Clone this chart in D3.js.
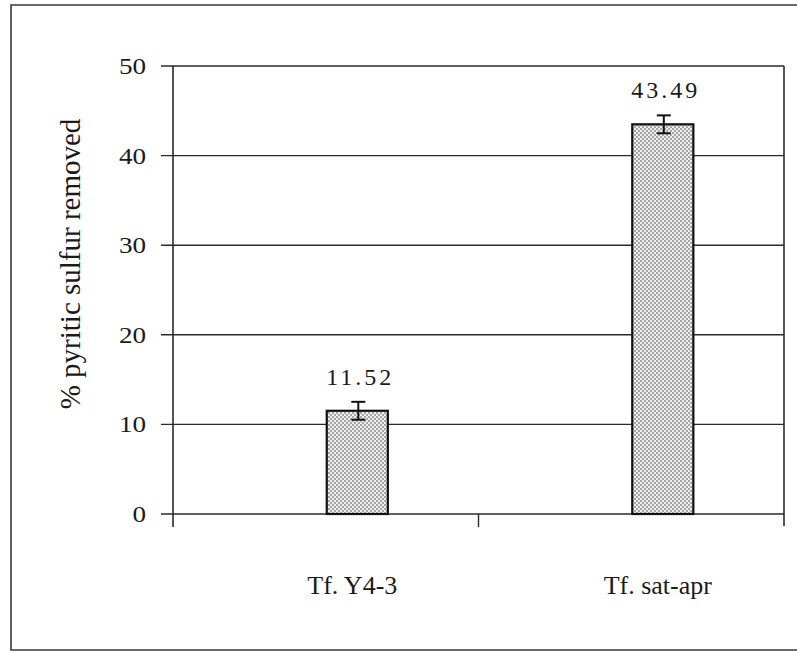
<!DOCTYPE html>
<html>
<head>
<meta charset="utf-8">
<script src="https://cdn.jsdelivr.net/npm/d3@7"></script>
<style>
  html, body { margin: 0; padding: 0; background: #fff; }
  svg { display: block; }
  text { font-family: "Liberation Serif", "Times New Roman", serif; fill: #1a1a1a; }
</style>
</head>
<body>
<svg id="chart" width="797" height="653"></svg>
<script>
// Strains tested and pyritic sulfur removal (%)
const categories = ["Tf. Y4-3", "Tf. sat-apr"];
const removal = [11.52, 43.49];
const removalErr = [1.0, 1.0];
const yTicks = [0, 10, 20, 30, 40, 50];
const yTitle = "% pyritic sulfur removed";
// Excel-style cluster: an empty slot sits before the plotted series
const seriesSlots = ["blank", "removal"];

const svg = d3.select("#chart");
const ink = "#2a2a2a";

// Dotted (stippled) bar fill
const defs = svg.append("defs");
const pat = defs.append("pattern")
  .attr("id", "stipple").attr("patternUnits", "userSpaceOnUse")
  .attr("width", 4).attr("height", 4);
pat.append("rect").attr("width", 4).attr("height", 4).attr("fill", "#efefef");
pat.append("circle").attr("cx", 1).attr("cy", 1).attr("r", 0.75).attr("fill", "#3a3a3a");
pat.append("circle").attr("cx", 3).attr("cy", 3).attr("r", 0.75).attr("fill", "#3a3a3a");

// Outer chart frame (right side runs off the page)
svg.append("path")
  .attr("d", "M 820 5 L 11 5 L 11 650 L 820 650")
  .attr("fill", "none").attr("stroke", "#3a3a3a").attr("stroke-width", 1.6);

const plot = { left: 173, right: 784, top: 66, bottom: 514 };

const y = d3.scaleLinear().domain([0, 50]).range([plot.bottom, plot.top]);
const x0 = d3.scaleBand().domain(categories).range([plot.left, plot.right]);
const x1 = d3.scaleBand().domain(seriesSlots).range([0, x0.bandwidth()])
  .paddingInner(0).paddingOuter(1.5);

// Horizontal gridlines with outward tick stubs
svg.append("g").selectAll("line").data(yTicks).join("line")
  .attr("x1", plot.left - 12).attr("x2", plot.right)
  .attr("y1", d => y(d)).attr("y2", d => y(d))
  .attr("stroke", ink).attr("stroke-width", 1.4);

// Value axis
svg.append("line")
  .attr("x1", plot.left).attr("x2", plot.left)
  .attr("y1", plot.top).attr("y2", plot.bottom + 13)
  .attr("stroke", ink).attr("stroke-width", 1.6);

// Right edge of plot area
svg.append("line")
  .attr("x1", plot.right).attr("x2", plot.right)
  .attr("y1", plot.top).attr("y2", plot.bottom + 12)
  .attr("stroke", ink).attr("stroke-width", 1.6);

// Category boundary tick marks
const boundaries = categories.slice(1).map(c => x0(c));
svg.append("g").selectAll("line").data(boundaries).join("line")
  .attr("x1", d => d).attr("x2", d => d)
  .attr("y1", plot.bottom).attr("y2", plot.bottom + 13)
  .attr("stroke", ink).attr("stroke-width", 1.4);

// Tick labels (slightly widened glyphs)
svg.append("g").selectAll("text").data(yTicks).join("text")
  .attr("transform", d => `translate(${plot.left - 27}, ${y(d)}) scale(1.18, 1)`)
  .attr("dy", "0.35em").attr("text-anchor", "end")
  .attr("font-size", 23)
  .text(d => d);

// Bars
const barX = i => x0(categories[i]) + x1("removal") + 1;
const barW = x1.bandwidth();
svg.append("g").selectAll("rect").data(removal).join("rect")
  .attr("x", (d, i) => barX(i)).attr("width", barW)
  .attr("y", d => y(d)).attr("height", d => y(0) - y(d))
  .attr("fill", "url(#stipple)")
  .attr("stroke", "#111").attr("stroke-width", 2.2);

// Error bars
const eb = svg.append("g").attr("stroke", "#111").attr("stroke-width", 2);
removal.forEach((v, i) => {
  const cx = barX(i) + barW / 2 + 1;
  const top = y(v + removalErr[i]), bot = y(v - removalErr[i]);
  eb.append("line").attr("x1", cx).attr("x2", cx).attr("y1", top).attr("y2", bot);
  eb.append("line").attr("x1", cx - 7).attr("x2", cx + 7).attr("y1", top).attr("y2", top);
  eb.append("line").attr("x1", cx - 7).attr("x2", cx + 7).attr("y1", bot).attr("y2", bot);
});

// Value labels
svg.append("g").selectAll("text").data(removal).join("text")
  .attr("x", (d, i) => barX(i) + barW / 2 + 3)
  .attr("y", (d, i) => y(d + removalErr[i]) - 17)
  .attr("text-anchor", "middle")
  .attr("font-size", 24).attr("letter-spacing", 3)
  .text(d => d.toFixed(2));

// Category labels
svg.append("g").selectAll("text").data(categories).join("text")
  .attr("x", (d, i) => barX(i) + barW / 2 - 5)
  .attr("y", 594)
  .attr("text-anchor", "middle")
  .attr("font-size", 26)
  .text(d => d);

// Value axis title
svg.append("text")
  .attr("transform", `translate(80, 264) rotate(-90)`)
  .attr("text-anchor", "middle")
  .attr("font-size", 29)
  .text(yTitle);
</script>
</body>
</html>
